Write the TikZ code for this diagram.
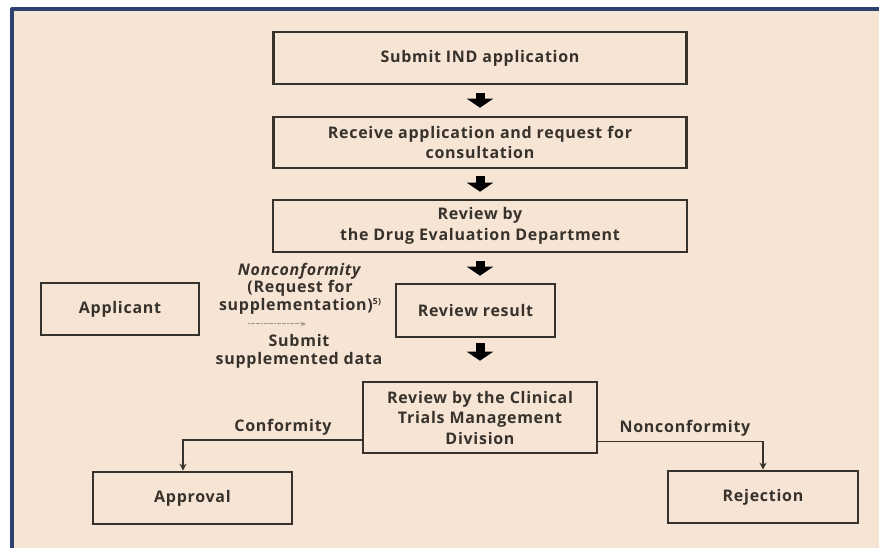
\documentclass[tikz,border=0pt]{standalone}
\usepackage{fontspec}
\setmainfont{Open Sans}[BoldFont={* Bold},BoldItalicFont={* Bold Italic},LetterSpace=4.5]
\usetikzlibrary{arrows.meta,calc}
\definecolor{paper}{HTML}{F6E5D4}
\definecolor{frameblue}{HTML}{2D4271}
\definecolor{ink}{HTML}{38322C}
\definecolor{hint}{HTML}{9C9890}
\tikzset{
  stepbox/.style={draw=ink, line width=2.6pt, fill=none, inner sep=0pt,
    align=center, font=\bfseries\fontsize{16}{20.5}\selectfont, text=ink},
  flowarrow/.style={draw=black, line width=9pt,
    -{Triangle[width=26pt,length=9pt]}},
  branch/.style={draw=ink, line width=1.4pt, -{Stealth[length=7pt,width=7pt]}},
  lbl/.style={font=\bfseries\fontsize{16}{18.5}\selectfont, text=ink, inner sep=0pt, align=center},
}
\begin{document}
\begin{tikzpicture}[x=1pt,y=-1pt]
\useasboundingbox (0,0) rectangle (879,548);
\fill[white] (0,0) rectangle (879,548);
% panel: peach fill, navy rule along the left and top edges only
\fill[paper] (12,9) rectangle (879,548);
\draw[frameblue, line width=4pt, line join=round] (12,548) -- (12,9) -- (879,9);

% main column of steps
\node[stepbox, minimum width=413pt, minimum height=52pt] (submit) at (480,58)
  {Submit IND application};
\node[stepbox, minimum width=413pt, minimum height=51pt] (receive) at (480,142.5)
  {Receive application and request for\\consultation};
\node[stepbox, minimum width=414pt, minimum height=52pt] (drug) at (480,226)
  {Review by\\the Drug Evaluation Department};
\node[stepbox, minimum width=159pt, minimum height=53pt] (result) at (475.5,310.5)
  {Review result};
\node[stepbox, minimum width=234pt, minimum height=71pt] (clin) at (480,417.5)
  {Review by the Clinical\\Trials Management\\Division};
\node[stepbox, minimum width=158pt, minimum height=52pt] (appl) at (120,309)
  {Applicant};
\node[stepbox, minimum width=199pt, minimum height=52pt] (appr) at (192.5,498)
  {Approval};
\node[stepbox, minimum width=190pt, minimum height=52pt] (rej) at (763,497)
  {Rejection};

% block arrows between steps
\draw[flowarrow, shorten <=8pt, shorten >=8pt] (submit.south) -- (receive.north);
\draw[flowarrow, shorten <=7pt, shorten >=7pt] (receive.south) -- (drug.north);
\draw[flowarrow, shorten <=8pt, shorten >=7pt] (drug.south) -- (drug.south |- result.north);
\draw[flowarrow, shorten <=5pt, shorten >=20pt] (result.south -| drug.south) -- (clin.north);

% request for supplementation
\node[lbl] (nonc) at (300,271) {\textit{Nonconformity}};
\node[lbl, anchor=north] (req) at (300,280)
  {(Request for\\supplementation)\raisebox{0.7ex}{\fontsize{8.5}{8.5}\selectfont 5)}};
\coordinate (sfrom) at (248,324);
\coordinate (sto) at (306,324);
\draw[draw=hint, line width=1pt, dash pattern=on 2pt off 0.6pt, -{Stealth[length=5pt,width=4.5pt]}] (sfrom) -- (sto);
\node[lbl, anchor=north] (supp) at (299,334) {Submit\\supplemented data};

% outcome branches
\draw[branch] ([yshift=-22.5pt]clin.west) -| ([xshift=-9.5pt]appr.north);
\draw[branch] ([yshift=-24pt]clin.east) -| (rej.north);
\node[lbl] (conf) at (283,427) {Conformity};
\node[lbl] (nonc2) at (685,428) {Nonconformity};
\end{tikzpicture}
\end{document}
